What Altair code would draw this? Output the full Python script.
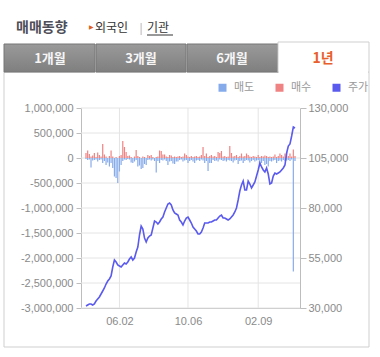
import altair as alt
import pandas as pd

# ---------------- data ----------------
price = [31000, 31500, 32000, 32000, 31500, 32000, 33500, 34500, 35500, 37000,
         38500, 40000, 42000, 43500, 44500, 46000, 50500, 54000, 53000, 51500,
         51000, 50500, 51500, 52500, 52000, 53000, 54500, 55500, 54000, 55000,
         58000, 60500, 66500, 71000, 69500, 65000, 63000, 65000, 66000, 66500,
         70000, 73500, 73000, 72000, 73000, 74500, 75500, 78000, 80000, 82000,
         82500, 81500, 79000, 77500, 77000, 76500, 74000, 73000, 71500, 73500,
         75000, 75500, 74000, 72500, 70500, 69500, 68500, 67000, 67000, 68000,
         70000, 72500, 72500, 72500, 73000, 73000, 73500, 74000, 74000, 75000,
         76000, 76500, 75000, 75000, 74500, 74000, 74500, 75500, 76500, 78000,
         80000, 84000, 88500, 91500, 93500, 89000, 89000, 93500, 92000, 90000,
         91500, 93000, 96000, 99000, 102500, 100500, 99000, 98000, 100000, 97000,
         92000, 92500, 96000, 97500, 97000, 97500, 98000, 99000, 100000, 101500,
         107500, 111000, 112000, 116000, 120500, 120000]

# net buy (매수), thousands of shares
buy = [100, 150, 80, 30, 50, 100, 20, 110, 60, 30,
       280, 70, 30, 0, 40, 150, 30, 0, 20, 0,
       40, 60, 340, 220, 120, 40, 50, 20, 0, 30,
       160, 40, 20, 0, 30, 20, 0, 60, 40, 60,
       20, 0, 20, 30, 150, 140, 70, 70, 30, 20,
       60, 50, 20, 30, 20, 30, 40, 20, 30, 90,
       60, 30, 20, 40, 20, 30, 40, 20, 30, 60,
       220, 40, 90, 20, 40, 60, 30, 40, 20, 120,
       100, 140, 30, 40, 20, 30, 240, 100, 30, 40,
       60, 20, 40, 90, 30, 40, 90, 60, 30, 20,
       40, 30, 20, 60, 20, 40, 30, 50, 40, 20,
       30, 20, 30, 70, 20, 40, 90, 60, 30, 90,
       120, 40, 90, 30, 170, 40]

# sell (매도), thousands of shares (drawn downward)
sell = [20, 40, 30, 190, 50, 40, 30, 70, 40, 30,
        100, 60, 140, 90, 170, 100, 200, 370, 400, 500,
        270, 140, 60, 30, 40, 20, 30, 90, 100, 70,
        40, 170, 150, 220, 200, 120, 140, 40, 30, 50,
        30, 60, 290, 60, 100, 40, 50, 30, 60, 140,
        70, 60, 110, 120, 70, 70, 40, 30, 70, 50,
        40, 100, 60, 40, 70, 100, 50, 40, 60, 30,
        50, 100, 60, 260, 100, 100, 40, 60, 50, 70,
        30, 40, 60, 50, 70, 40, 50, 60, 90, 50,
        40, 120, 60, 50, 100, 60, 40, 50, 90, 60,
        40, 70, 50, 40, 100, 100, 60, 140, 120, 170,
        60, 70, 50, 40, 100, 60, 50, 70, 40, 60,
        50, 40, 60, 30, 2270, 60]

x_label_idx = [20, 61, 103]
x_labels = ["06.02", "10.06", "02.09"]
left_ticks = [-3000000, -2500000, -2000000, -1500000, -1000000, -500000, 0, 500000, 1000000]
right_ticks = [30000, 55000, 80000, 105000, 130000]
series_names = ["매도", "매수", "주가"]
series_colors = ["#86abeb", "#ef8282", "#5a5aee"]
tab_names = ["1개월", "3개월", "6개월", "1년"]

# ---------------- tables ----------------
n = len(price)
bars = pd.DataFrame({
    "i": list(range(n)) * 2,
    "v": [-s * 1000 for s in sell] + [b * 1000 for b in buy],
    "series": [series_names[0]] * n + [series_names[1]] * n,
})
line_df = pd.DataFrame({"i": list(range(n)), "p": price, "series": [series_names[2]] * n})
hgrid_df = pd.DataFrame({"v": left_ticks})
vgrid_df = pd.DataFrame({"i": x_label_idx})

FONT = "Liberation Sans, Noto Sans CJK KR"
KFONT = "Noto Sans CJK KR"
GRID = "#e4e4e4"
AXC = "#bdbdbd"
LBL = "#8a8a8a"

label_expr = " : ".join(
    f"datum.value == {v} ? '{t}'" for v, t in zip(x_label_idx[:-1], x_labels[:-1])
) + f" : '{x_labels[-1]}'"

x_scale = alt.Scale(domain=[0, n - 1], nice=False, zero=False)
x_enc = alt.X(
    "i:Q",
    scale=x_scale,
    axis=alt.Axis(values=x_label_idx, labelExpr=label_expr, grid=False, ticks=False,
                  title=None, labelPadding=7, labelFontSize=11, labelColor=LBL,
                  domainColor=AXC, labelFont=FONT),
)
vol_scale = alt.Scale(domain=[-3000000, 1000000], nice=False)

color_enc = alt.Color(
    "series:N",
    scale=alt.Scale(domain=series_names, range=series_colors),
    legend=alt.Legend(orient="none", legendX=136, legendY=-26, direction="horizontal",
                      title=None, symbolType="square", symbolSize=64, symbolStrokeWidth=0,
                      labelFontSize=11, labelColor="#999999", labelFont=KFONT,
                      columnPadding=19, labelOffset=6),
)

vgrid = alt.Chart(vgrid_df).mark_rule(color=GRID, strokeWidth=1).encode(x=x_enc)

hgrid = alt.Chart(hgrid_df).mark_rule(color=GRID, strokeWidth=1).encode(
    y=alt.Y("v:Q", scale=vol_scale, axis=None))

bar_layer = alt.Chart(bars).mark_bar(size=1.2).encode(
    x=x_enc,
    y=alt.Y("v:Q", stack=None, scale=vol_scale,
            axis=alt.Axis(orient="left", values=left_ticks, title=None, grid=False,
                          tickSize=5, tickColor=AXC, domainColor=AXC,
                          labelFontSize=11, labelColor=LBL,
                          labelPadding=3, labelFont=FONT,
                          labelExpr="datum.value < 0 ? '-' + format(-datum.value, ',') : format(datum.value, ',')")),
    y2=alt.datum(0),
    color=color_enc,
)

line_layer = alt.Chart(line_df).mark_line(strokeWidth=1.6).encode(
    x=x_enc,
    y=alt.Y("p:Q",
            scale=alt.Scale(domain=[30000, 130000], nice=False, zero=False),
            axis=alt.Axis(orient="right", values=right_ticks, title=None,
                          labelExpr="format(datum.value, ',')",
                          grid=False, tickSize=6, tickColor=AXC, domainColor=AXC,
                          labelFontSize=11, labelColor=LBL, labelPadding=2,
                          labelFont=FONT)),
    color=color_enc,
)

one = alt.Data(values=[{"k": 1}])


def rect(x, x2, y, y2, **kw):
    return alt.Chart(one).mark_rect(**kw).encode(
        x=alt.value(x), x2=alt.value(x2), y=alt.value(y), y2=alt.value(y2))


def text(x, y, s, **kw):
    return alt.Chart(one).mark_text(text=s, **kw).encode(x=alt.value(x), y=alt.value(y))


def hrule(x, x2, y, **kw):
    return alt.Chart(one).mark_rule(**kw).encode(x=alt.value(x), x2=alt.value(x2), y=alt.value(y))


tab_grad = alt.LinearGradient(
    gradient="linear", x1=0, x2=0, y1=0, y2=1,
    stops=[alt.GradientStop(offset=0, color="#9a9a9a"),
           alt.GradientStop(offset=1, color="#7f7f7f")])

ox, oy = 81, 108  # plot origin on page (decorations are placed relative to it)
deco = [
    rect(4 - ox, 369 - ox, 72 - oy, 347 - oy, fill="transparent", stroke="#cfcfcf", strokeWidth=1),
    rect(4 - ox, 95 - ox, 44 - oy, 72 - oy, fill=tab_grad, stroke="#767676", strokeWidth=1),
    rect(96 - ox, 186 - ox, 44 - oy, 72 - oy, fill=tab_grad, stroke="#767676", strokeWidth=1),
    rect(187 - ox, 278 - ox, 44 - oy, 72 - oy, fill=tab_grad, stroke="#767676", strokeWidth=1),
    rect(278 - ox, 369 - ox, 42 - oy, 72 - oy, fill="white", stroke="#cfcfcf", strokeWidth=1),
    hrule(279 - ox, 368 - ox, 72 - oy, color="white", strokeWidth=2),
]
tab_x = [50, 141, 232, 323]
for k, (tx, name) in enumerate(zip(tab_x, tab_names)):
    active = k == len(tab_names) - 1
    deco.append(text(tx - ox, 59 - oy, name, font=KFONT, fontSize=14 if active else 13,
                     fontWeight="bold", color="#e8602c" if active else "#f6f6f6",
                     align="center", baseline="middle"))

deco += [
    text(16 - ox, 28 - oy, "매매동향", font=KFONT, fontSize=14, fontWeight="bold",
         color="#4e4e58", align="left", baseline="middle"),
    text(89 - ox, 27 - oy, "▶", font="DejaVu Sans", fontSize=6, color="#e0601e",
         align="left", baseline="middle"),
    text(95 - ox, 28 - oy, "외국인", font=KFONT, fontSize=12, color="#333333",
         align="left", baseline="middle"),
    text(141 - ox, 28 - oy, "|", font=FONT, fontSize=12, color="#bbbbbb",
         align="center", baseline="middle"),
    text(147 - ox, 28 - oy, "기관", font=KFONT, fontSize=12, color="#333333",
         align="left", baseline="middle"),
    hrule(147 - ox, 173 - ox, 35 - oy, color="#333333", strokeWidth=1),
]

chart = alt.layer(*deco, vgrid, hgrid, bar_layer, line_layer).resolve_scale(
    y="independent"
).properties(
    width=219, height=200,
    padding={"left": 81, "top": 108, "right": 80, "bottom": 49},
    autosize=alt.AutoSizeParams(type="none"),
    background="white",
).configure_view(strokeWidth=0)

chart.save("out.html", embed_options={"renderer": "svg", "actions": False})
